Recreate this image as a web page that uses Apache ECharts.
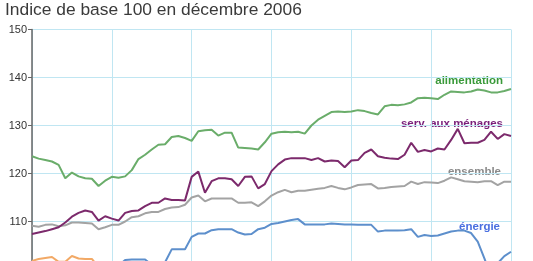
<!DOCTYPE html>
<html>
<head>
<meta charset="utf-8">
<script src="https://cdn.jsdelivr.net/npm/echarts@6/dist/echarts.min.js"></script>
<style>
html,body{margin:0;padding:0;overflow:hidden;background:#fff;}
#c{width:533px;height:340px;}
</style>
</head>
<body>
<div id="c"></div>
<script>
// 73 monthly points, vertical gridline every 12 months
var categories = [];
for (var k = 0; k < 73; k++) { categories.push('m' + k); }

var alimentation = [123.6,123.1,122.8,122.5,121.8,119.0,120.2,119.4,119.0,118.9,117.4,118.5,119.3,119.1,119.4,120.7,123.0,123.9,125.0,126.0,126.1,127.6,127.8,127.4,126.8,128.8,129.0,129.1,127.9,128.5,128.5,125.4,125.3,125.2,125.0,126.5,128.3,128.6,128.7,128.6,128.7,128.3,130.0,131.2,132.0,132.8,132.9,132.8,132.9,133.2,133.0,132.6,132.3,134.0,134.3,134.2,134.4,134.8,135.7,135.8,135.7,135.5,136.4,137.1,137.0,136.9,137.1,137.5,137.3,136.9,136.9,137.2,137.6];

var servMenages = [107.4,107.7,108.0,108.4,108.8,109.8,111.0,111.8,112.3,112.0,110.2,111.1,110.6,110.2,111.8,112.2,112.3,113.2,113.9,113.9,114.8,114.5,114.5,114.4,119.3,120.4,116.0,118.4,119.0,119.0,118.8,117.4,119.3,119.4,116.9,117.8,120.5,121.9,122.9,123.2,123.2,123.2,122.8,123.2,122.5,122.7,122.6,121.3,122.7,122.8,124.3,125.0,123.6,123.3,123.1,123.0,123.9,126.4,124.5,124.9,124.6,125.2,125.0,127.0,129.3,126.3,126.4,126.4,127.0,128.7,127.2,128.2,127.8];

var ensemble = [109.1,108.9,109.3,109.4,109.0,109.2,109.8,109.8,109.7,109.6,108.4,108.8,109.3,109.3,110.0,110.9,111.1,111.7,112.0,112.0,112.6,112.9,113.0,113.5,115.0,115.4,114.2,114.8,114.8,114.8,114.8,113.9,113.9,114.0,113.2,114.2,115.4,116.1,116.6,116.1,116.4,116.4,116.6,116.8,117.0,117.4,117.0,116.7,117.1,117.6,117.7,117.8,116.9,117.0,117.2,117.3,117.4,118.3,117.8,118.2,118.1,118.0,118.5,119.2,118.8,118.4,118.3,118.2,118.4,118.4,117.6,118.3,118.3];

var energie = [null,null,null,null,null,null,null,null,null,null,null,null,99.5,100.8,102.0,102.1,102.1,102.1,101.0,100.8,101.5,104.2,104.2,104.2,106.8,107.5,107.5,108.2,108.4,108.4,108.4,107.7,107.3,107.4,108.4,108.7,109.5,109.7,110.0,110.3,110.5,109.4,109.4,109.4,109.4,109.6,109.5,109.4,109.4,109.3,109.3,109.3,107.9,108.1,108.1,108.1,108.2,108.4,106.8,107.2,107.0,107.1,107.5,107.9,108.1,108.1,107.6,105.8,102.3,98.5,101.3,102.8,103.7];

var autre = [101.8,102.2,102.4,102.6,101.6,101.6,102.8,102.3,102.2,102.2,100.5,99.5,99.2];

var yTicks = {min: 90, max: 150, interval: 10};

var seriesLabels = ['alimentation', 'serv. aux ménages', 'ensemble', 'énergie'];

var chart = echarts.init(document.getElementById('c'), null, {renderer: 'canvas'});
var FONT = '"Liberation Sans", Arial, sans-serif';

function line(name, data, color) {
  return {
    name: name, type: 'line', data: data, showSymbol: false, symbol: 'none',
    smooth: false, connectNulls: false,
    lineStyle: {color: color, width: 2}, itemStyle: {color: color},
    animation: false
  };
}

chart.setOption({
  animation: false,
  title: {
    text: 'Indice de base 100 en décembre 2006',
    left: 5, top: 2, padding: 0,
    textStyle: {fontFamily: FONT, fontSize: 17.4, fontWeight: 'normal', color: '#3a3a3a'}
  },
  grid: {left: 32, right: 22, top: 29.5, bottom: 22.5},
  xAxis: {
    type: 'category', data: categories, boundaryGap: false,
    axisLine: {show: false}, axisTick: {show: false}, axisLabel: {show: false},
    splitLine: {show: true, interval: function (i) { return i % 12 === 0; },
      lineStyle: {color: '#c0e6f2', width: 1}}
  },
  yAxis: {
    type: 'value', min: yTicks.min, max: yTicks.max, interval: yTicks.interval,
    axisLine: {show: true, lineStyle: {color: '#666', width: 1.5}},
    axisTick: {show: true, length: 4, lineStyle: {color: '#666'}},
    axisLabel: {fontFamily: FONT, fontSize: 11, color: '#333', margin: 5},
    splitLine: {show: true, lineStyle: {color: '#c0e6f2', width: 1}}
  },
  series: [
    line('autre', autre, '#f2a966'),
    line('énergie', energie, '#5d8fcc'),
    line('ensemble', ensemble, '#a3a3a3'),
    line('serv. aux ménages', servMenages, '#7c2a6c'),
    line('alimentation', alimentation, '#6aad6a')
  ],
  graphic: [
    {type: 'text', x: 503, y: 81, style: {text: seriesLabels[0], textAlign: 'right', textVerticalAlign: 'middle', fill: '#3a9a3a', font: 'bold 11.5px ' + FONT}},
    {type: 'text', x: 503, y: 123.5, style: {text: seriesLabels[1], textAlign: 'right', textVerticalAlign: 'middle', fill: '#7a1f7a', font: 'bold 11.5px ' + FONT}},
    {type: 'text', x: 501, y: 171.5, style: {text: seriesLabels[2], textAlign: 'right', textVerticalAlign: 'middle', fill: '#8a8a8a', font: 'bold 11.5px ' + FONT}},
    {type: 'text', x: 500, y: 227, style: {text: seriesLabels[3], textAlign: 'right', textVerticalAlign: 'middle', fill: '#4a6fe0', font: 'bold 11.5px ' + FONT}}
  ]
});
</script>
</body>
</html>
